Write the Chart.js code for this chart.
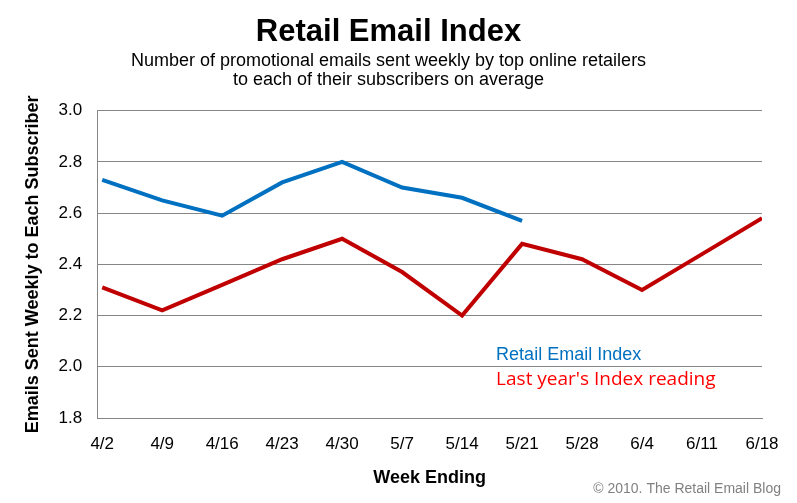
<!DOCTYPE html>
<html lang="en">
<head>
  <meta charset="UTF-8" />
  <title>Retail Email Index</title>
  <script src="https://cdn.jsdelivr.net/npm/chart.js"></script>
  <style>
    body { margin:0; background:#fff; }
    #wrap { width:797px; height:503px; }
  </style>
</head>
<body>
  <div id="wrap"><canvas id="chart" width="797" height="503"></canvas></div>
  <script>
    // week ending labels
    const weeks = ["4/2","4/9","4/16","4/23","4/30","5/7","5/14","5/21","5/28","6/4","6/11","6/18"];
    // emails per subscriber, this year (through 5/21)
    const thisYear = [2.73, 2.65, 2.59, 2.72, 2.80, 2.70, 2.66, 2.57];
    // last year's reading for the same weeks
    const lastYear = [2.31, 2.22, 2.32, 2.42, 2.50, 2.37, 2.20, 2.48, 2.42, 2.30, 2.44, 2.58];
    const yTicks = [1.8, 2.0, 2.2, 2.4, 2.6, 2.8, 3.0];

    const FONT = "'Liberation Sans', Arial, sans-serif";
    const BLUE = "#0070C0", RED = "#C00000", GRID = "#868686";

    const toPts = arr => arr.map((v, i) => ({ x: i, y: v }));

    // in-plot labels + credit line
    const notes = {
      id: "notes",
      afterDraw(chart) {
        const c = chart.ctx, xs = chart.scales.x, ys = chart.scales.y;
        c.save();
        c.textBaseline = "middle";
        c.textAlign = "left";
        c.font = "18px " + FONT;
        c.fillStyle = BLUE;
        c.fillText("Retail Email Index", xs.getPixelForValue(6.567), ys.getPixelForValue(2.045));
        c.font = "19px 'Open Sans', " + FONT;
        c.fillStyle = "#FF0000";
        c.fillText("Last year's Index reading", xs.getPixelForValue(6.567), ys.getPixelForValue(1.95));
        c.font = "14px " + FONT;
        c.fillStyle = "#808080";
        c.textAlign = "right";
        c.fillText("\u00a9 2010. The Retail Email Blog", 781, 489);
        c.restore();
      }
    };

    new Chart(document.getElementById("chart"), {
      type: "line",
      data: {
        datasets: [
          { label: "Retail Email Index", data: toPts(thisYear), borderColor: BLUE, borderWidth: 4, pointRadius: 0, tension: 0 },
          { label: "Last year's Index reading", data: toPts(lastYear), borderColor: RED, borderWidth: 4, pointRadius: 0, tension: 0 }
        ]
      },
      options: {
        responsive: false,
        animation: false,
        layout: { padding: { left: 15, right: 35, top: 0, bottom: 10 } },
        plugins: {
          legend: { display: false },
          tooltip: { enabled: false },
          title: {
            display: true, text: "Retail Email Index", color: "#000",
            font: { family: FONT, size: 31, weight: "bold", lineHeight: 1 },
            padding: { top: 17, bottom: 4 }
          },
          subtitle: {
            display: true,
            text: ["Number of promotional emails sent weekly by top online retailers", "to each of their subscribers on average"],
            color: "#000",
            font: { family: FONT, size: 18, lineHeight: 1.02 },
            padding: { top: 0, bottom: 22 }
          }
        },
        scales: {
          x: {
            type: "linear", min: -0.083, max: 11,
            afterBuildTicks: s => { s.ticks = weeks.map((w, i) => ({ value: i })); },
            ticks: { callback: v => weeks[v], color: "#000", font: { family: FONT, size: 17 }, padding: 8, maxRotation: 0, autoSkip: false },
            grid: { display: false },
            border: { display: true, color: GRID, width: 1 },
            title: { display: true, text: "Week Ending", color: "#000", font: { family: FONT, size: 18, weight: "bold" }, padding: { top: 5, bottom: 4 } }
          },
          y: {
            min: 1.8, max: 3.0,
            afterBuildTicks: s => { s.ticks = yTicks.map(v => ({ value: v })); },
            ticks: { callback: v => v.toFixed(1), color: "#000", font: { family: FONT, size: 17 }, padding: 15 },
            grid: { color: GRID, lineWidth: 1, drawTicks: false },
            border: { display: true, color: GRID, width: 1 },
            title: { display: true, text: "Emails Sent Weekly to Each Subscriber", color: "#000", font: { family: FONT, size: 18, weight: "bold" }, padding: { top: 7, bottom: 0 } }
          }
        }
      },
      plugins: [notes]
    });
  </script>
</body>
</html>
